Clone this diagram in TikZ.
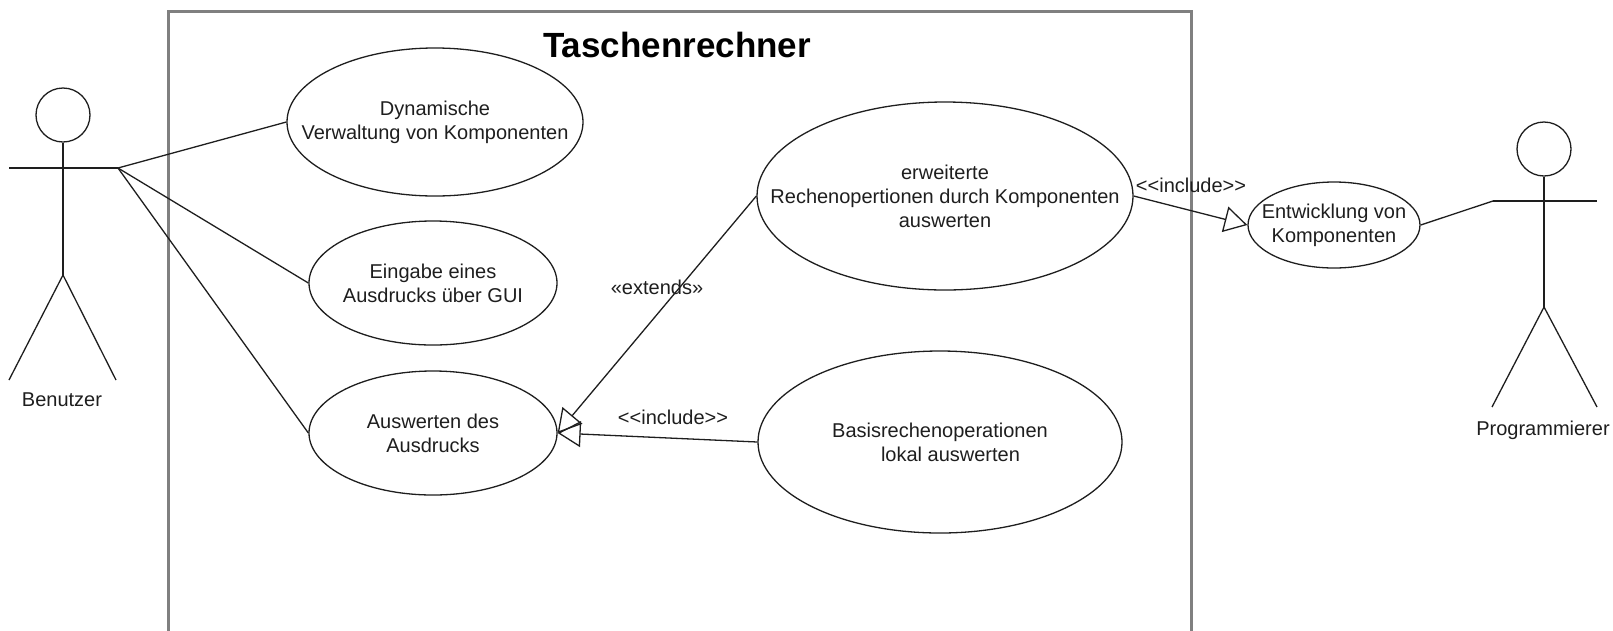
\documentclass[tikz,border=0pt]{standalone}
\usepackage{fontspec}
\newfontfamily\umlfont{Liberation Sans}
\usetikzlibrary{shapes.geometric,arrows.meta}
\definecolor{framegray}{RGB}{128,128,128}
\definecolor{ink}{RGB}{30,30,30}
\begin{document}
\begin{tikzpicture}[x=1pt,y=-1pt,
  line/.style={line width=1.3pt, draw=ink},
  uc/.style={ellipse, draw=ink, line width=1.3pt, inner sep=0pt},
  uctext/.style={align=center, inner sep=0pt, text=ink, font=\umlfont\fontsize{20}{24}\selectfont},
  lbl/.style={inner sep=0pt, text=ink, font=\umlfont\fontsize{20}{24}\selectfont},
  dep/.style={line, -{Triangle[open,length=23pt,width=26pt]}},
  headstyle/.style={circle, draw=ink, line width=1.3pt, minimum size=54pt, inner sep=0pt}
]
\useasboundingbox (0,0) rectangle (1613,630);

% system frame
\draw[framegray, line width=3pt] (168,640) -- (168,11) -- (1191,11) -- (1191,640);
\node[inner sep=0pt, text=black, font=\umlfont\bfseries\fontsize{35}{42}\selectfont] (title) at (677,45) {Taschenrechner};

% use cases
\node[uc, minimum width=296pt, minimum height=148pt] (dyn) at (435,122) {};
\node[uctext] (dynT) at (dyn.center) {Dynamische\\Verwaltung von Komponenten};
\node[uc, minimum width=248pt, minimum height=124pt] (ein) at (433,283) {};
\node[uctext] (einT) at (ein.center) {Eingabe eines\\Ausdrucks über GUI};
\node[uc, minimum width=248pt, minimum height=124pt] (ausw) at (433,433) {};
\node[uctext] (auswT) at (ausw.center) {Auswerten des\\Ausdrucks};
\node[uc, minimum width=376pt, minimum height=188pt] (erw) at (945,196) {};
\node[uctext] (erwT) at (erw.center) {erweiterte\\Rechenopertionen durch Komponenten\\auswerten};
\node[uc, minimum width=364pt, minimum height=182pt] (bas) at (940,442) {};
\node[uctext] (basT) at (bas.center) {Basisrechenoperationen\\\hspace*{21pt}lokal auswerten};
\node[uc, minimum width=172pt, minimum height=86pt] (ent) at (1334,225) {};
\node[uctext] (entT) at (ent.center) {Entwicklung von\\Komponenten};

% actor Benutzer
\node[headstyle] (bhead) at (63,115) {};
\coordinate (bhip) at (63,275);
\coordinate (bhandL) at (9,168);
\coordinate (bhand) at (118,168);
\coordinate (bfootL) at (9,380);
\coordinate (bfootR) at (116,380);
\draw[line] (bhead.south) -- (bhip);
\draw[line] (bhandL) -- (bhand);
\draw[line] (bfootL) -- (bhip) -- (bfootR);
\node[lbl] (blabel) at (62,400) {Benutzer};

% actor Programmierer
\node[headstyle] (phead) at (1544,149) {};
\coordinate (phip) at (1544,307);
\coordinate (phand) at (1493,201);
\coordinate (phandR) at (1597,201);
\coordinate (pfootL) at (1492,407);
\coordinate (pfootR) at (1597,407);
\draw[line] (phead.south) -- (phip);
\draw[line] (phand) -- (phandR);
\draw[line] (pfootL) -- (phip) -- (pfootR);
\node[lbl] (plabel) at (1543,430) {Programmierer};

% associations
\draw[line] (bhand) -- (dyn.west);
\draw[line] (bhand) -- (ein.west);
\draw[line] (bhand) -- (ausw.west);
\draw[line] (ent.east) -- (phand);

% dependencies
\draw[dep] (erw.west) -- (ausw.east);
\draw[dep] (bas.west) -- (ausw.east);
\draw[dep] (erw.east) -- (ent.west);

\node[lbl] (extL) at (657,287) {«extends»};
\node[lbl] (incL1) at (673,417) {<<include>>};
\node[lbl] (incL2) at (1191,185) {<<include>>};
\end{tikzpicture}
\end{document}
